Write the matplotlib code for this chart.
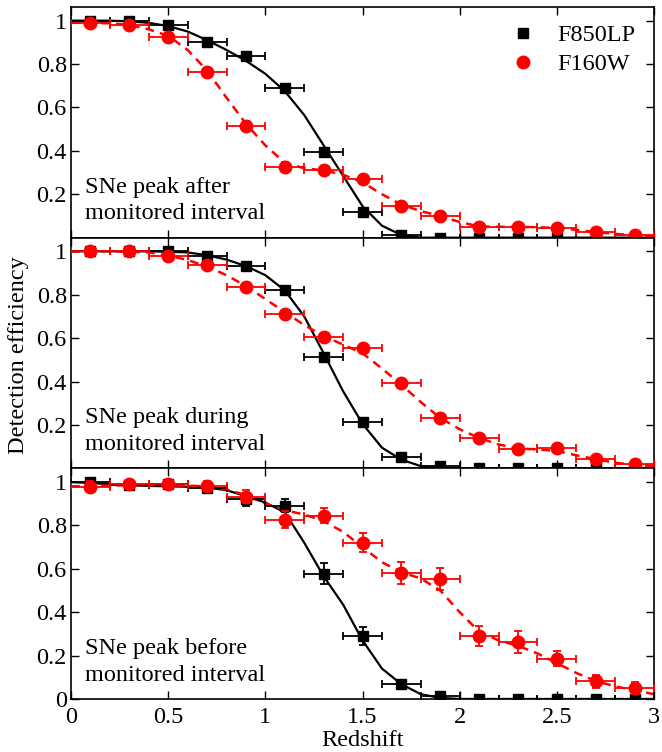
import matplotlib
matplotlib.use("Agg")
import matplotlib.pyplot as plt
import numpy as np

plt.rcParams['font.family'] = ['Liberation Serif', 'DejaVu Serif']
plt.rcParams['mathtext.fontset'] = 'stix'

# redshift bins (centres) and half-widths
z_bins = [0.1, 0.3, 0.5, 0.7, 0.9, 1.1, 1.3, 1.5, 1.7, 1.9, 2.1, 2.3, 2.5, 2.7, 2.9]
z_half = 0.1

panel_labels = ["SNe peak after\nmonitored interval",
                "SNe peak during\nmonitored interval",
                "SNe peak before\nmonitored interval"]

# F850LP measurements (black squares)
f850_after = [1.0, 1.0, 0.98, 0.90, 0.835, 0.69, 0.395, 0.12, 0.012, 0.0, 0.0, 0.0, 0.0, 0.0, 0.0]
f850_after_err = [0.01, 0.01, 0.012, 0.015, 0.015, 0.018, 0.02, 0.018, 0.008, 0.005, 0.004, 0.004, 0.004, 0.004, 0.004]
f850_during = [1.0, 1.0, 1.0, 0.977, 0.932, 0.822, 0.512, 0.215, 0.052, 0.012, 0.0, 0.0, 0.0, 0.0, 0.0]
f850_during_err = [0.008, 0.008, 0.01, 0.012, 0.014, 0.016, 0.018, 0.018, 0.012, 0.006, 0.004, 0.004, 0.004, 0.004, 0.004]
f850_before = [1.0, 0.985, 0.99, 0.974, 0.921, 0.89, 0.578, 0.29, 0.067, 0.014, 0.0, 0.0, 0.0, 0.0, 0.0]
f850_before_err = [0.015, 0.015, 0.018, 0.02, 0.03, 0.03, 0.047, 0.04, 0.022, 0.012, 0.005, 0.005, 0.005, 0.005, 0.005]

# F160W measurements (red circles)
f160_after = [0.99, 0.98, 0.926, 0.763, 0.515, 0.327, 0.31, 0.269, 0.147, 0.10, 0.05, 0.05, 0.046, 0.025, 0.012]
f160_after_err = [0.01, 0.01, 0.015, 0.02, 0.022, 0.02, 0.02, 0.02, 0.016, 0.014, 0.01, 0.01, 0.01, 0.008, 0.006]
f160_during = [1.0, 1.0, 0.98, 0.935, 0.837, 0.713, 0.603, 0.555, 0.393, 0.232, 0.139, 0.087, 0.094, 0.042, 0.019]
f160_during_err = [0.008, 0.008, 0.01, 0.012, 0.016, 0.018, 0.018, 0.018, 0.018, 0.016, 0.014, 0.012, 0.012, 0.01, 0.008]
f160_before = [0.979, 0.992, 0.99, 0.982, 0.932, 0.827, 0.845, 0.721, 0.58, 0.552, 0.291, 0.264, 0.185, 0.082, 0.049]
f160_before_err = [0.025, 0.015, 0.02, 0.022, 0.03, 0.04, 0.035, 0.045, 0.05, 0.05, 0.045, 0.05, 0.035, 0.03, 0.028]

# fitted curves on a 0.1 grid in redshift
curve_z = [0.0, 0.1, 0.2, 0.3, 0.4, 0.5, 0.6, 0.7, 0.8, 0.9, 1.0, 1.1, 1.2, 1.3, 1.4, 1.5,
           1.6, 1.7, 1.8, 1.9, 2.0, 2.1, 2.2, 2.3, 2.4, 2.5, 2.6, 2.7, 2.8, 2.9, 3.0]
fit850_after = [1.0, 1.0, 1.0, 0.997, 0.99, 0.975, 0.95, 0.91, 0.865, 0.815, 0.755, 0.675, 0.565,
                0.425, 0.285, 0.145, 0.055, 0.012, 0.0, 0.0, 0.0, 0.0, 0.0, 0.0, 0.0, 0.0,
                0.0, 0.0, 0.0, 0.0, 0.0]
fit160_after = [0.99, 0.99, 0.988, 0.98, 0.96, 0.93, 0.865, 0.77, 0.645, 0.525, 0.425, 0.345, 0.32,
                0.31, 0.29, 0.255, 0.2, 0.152, 0.122, 0.1, 0.072, 0.052, 0.05, 0.05, 0.048, 0.045,
                0.036, 0.026, 0.017, 0.011, 0.006]
fit850_during = [1.0, 1.0, 1.0, 1.0, 1.0, 0.998, 0.995, 0.982, 0.962, 0.932, 0.89, 0.82, 0.7,
                 0.53, 0.355, 0.205, 0.095, 0.04, 0.01, 0.0, 0.0, 0.0, 0.0, 0.0, 0.0, 0.0,
                 0.0, 0.0, 0.0, 0.0, 0.0]
fit160_during = [1.0, 1.0, 1.0, 0.998, 0.995, 0.98, 0.96, 0.93, 0.89, 0.84, 0.78, 0.72, 0.66,
                 0.61, 0.57, 0.53, 0.46, 0.385, 0.305, 0.232, 0.18, 0.14, 0.11, 0.092, 0.087, 0.08,
                 0.06, 0.042, 0.026, 0.016, 0.01]
fit850_before = [1.0, 0.995, 0.99, 0.985, 0.982, 0.98, 0.978, 0.975, 0.962, 0.935, 0.905, 0.86, 0.72,
                 0.565, 0.435, 0.27, 0.14, 0.068, 0.022, 0.005, 0.0, 0.0, 0.0, 0.0, 0.0, 0.0,
                 0.0, 0.0, 0.0, 0.0, 0.0]
fit160_before = [0.98, 0.982, 0.984, 0.985, 0.985, 0.985, 0.983, 0.98, 0.965, 0.94, 0.9, 0.87, 0.85,
                 0.82, 0.77, 0.70, 0.63, 0.585, 0.555, 0.50, 0.40, 0.31, 0.27, 0.245, 0.21, 0.165,
                 0.12, 0.083, 0.058, 0.04, 0.022]

f850_sets = [(f850_after, f850_after_err), (f850_during, f850_during_err), (f850_before, f850_before_err)]
f160_sets = [(f160_after, f160_after_err), (f160_during, f160_during_err), (f160_before, f160_before_err)]
fit850_sets = [fit850_after, fit850_during, fit850_before]
fit160_sets = [fit160_after, fit160_during, fit160_before]

FS = 17.5

fig, axes = plt.subplots(3, 1, figsize=(6.62, 7.52), dpi=100, sharex=True)
fig.subplots_adjust(left=0.1073, right=0.988, top=0.9907, bottom=0.0705, hspace=0)

for i, ax in enumerate(axes):
    ax.plot(curve_z, fit850_sets[i], color='black', lw=1.6, zorder=2)
    ax.plot(curve_z, fit160_sets[i], color='red', lw=1.8, ls=(0, (3.5, 2.5)), zorder=2)

    y850, e850 = f850_sets[i]
    ax.errorbar(z_bins, y850, xerr=z_half, yerr=e850, fmt='s', color='black',
                ms=7.5, elinewidth=1.3, capsize=3, capthick=1.3, zorder=3,
                label='F850LP')
    y160, e160 = f160_sets[i]
    ax.errorbar(z_bins, y160, xerr=z_half, yerr=e160, fmt='o', color='red',
                ms=9, elinewidth=1.3, capsize=3, capthick=1.3, zorder=4,
                label='F160W')

    ax.set_xlim(0, 3)
    ax.set_ylim(0, 1.063)
    ax.set_xticks([0, 0.5, 1, 1.5, 2, 2.5, 3])
    ax.set_xticklabels(['0', '0.5', '1', '1.5', '2', '2.5', '3'])
    if i < 2:
        ax.set_yticks([0.2, 0.4, 0.6, 0.8, 1.0])
        ax.set_yticklabels(['0.2', '0.4', '0.6', '0.8', '1'])
    else:
        ax.set_yticks([0, 0.2, 0.4, 0.6, 0.8, 1.0])
        ax.set_yticklabels(['0', '0.2', '0.4', '0.6', '0.8', '1'])
    ax.tick_params(direction='in', top=True, right=True, length=6, width=1,
                   labelsize=FS, pad=3)
    ax.tick_params(axis='x', pad=6)
    for sp in ax.spines.values():
        sp.set_linewidth(1.2)
    ax.text(0.024, 0.08, panel_labels[i], transform=ax.transAxes,
            fontsize=FS, ha='left', va='baseline', linespacing=1.35)

# legend with markers only
l = ['F850LP', 'F160W']
leg_handles = [plt.Line2D([], [], marker='s', color='black', ls='none', ms=7.5),
               plt.Line2D([], [], marker='o', color='red', ls='none', ms=9)]
axes[0].legend(leg_handles, l, loc='upper right', frameon=False, fontsize=FS,
               handletextpad=0.4, borderaxespad=0.3, labelspacing=0.3,
               bbox_to_anchor=(0.997, 1.0))

axes[2].set_xlabel('Redshift', fontsize=FS, labelpad=1)
fig.text(0.028, 0.528, 'Detection efficiency', rotation=90, fontsize=FS,
         ha='center', va='center')

fig.savefig('out.png', dpi=100)
